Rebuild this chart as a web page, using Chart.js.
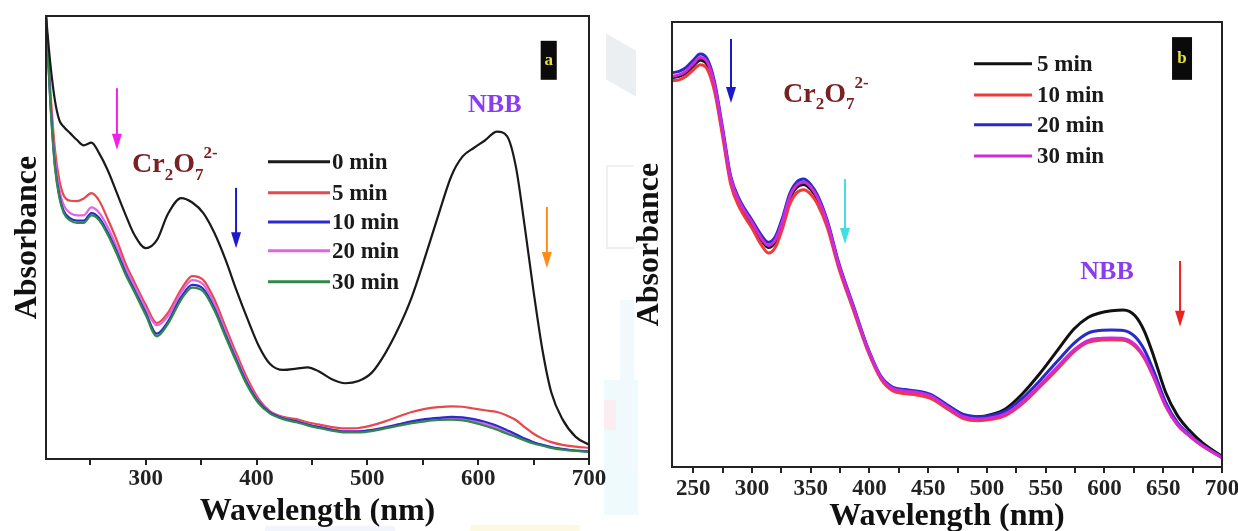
<!DOCTYPE html>
<html>
<head>
<meta charset="utf-8">
<title>UV-vis spectra</title>
<script src="https://cdn.jsdelivr.net/npm/chart.js@4.4.1/dist/chart.umd.min.js"></script>
<style>
  html, body { margin: 0; padding: 0; background: #fff; overflow: hidden; width: 1238px; height: 531px; }
  canvas { position: absolute; top: 0; }
  #chartA { left: 0; }
  #chartB { left: 620px; }
  .bg { position: absolute; }
</style>
</head>
<body>
<!-- faint page decorations behind the panels -->
<div class="bg" style="left:606px;top:42px;width:30px;height:46px;background:#eceff1;transform:skewY(30deg);"></div>
<div class="bg" style="left:606px;top:165px;width:26px;height:80px;border:2px solid #eef0f2;border-right:none;"></div>
<div class="bg" style="left:604px;top:380px;width:34px;height:135px;background:#eefafc;"></div>
<div class="bg" style="left:604px;top:400px;width:12px;height:30px;background:#fcedf0;"></div>
<div class="bg" style="left:620px;top:300px;width:14px;height:170px;background:#f1f9fc;"></div>
<div class="bg" style="left:470px;top:525px;width:110px;height:6px;background:#fcf8e2;"></div>
<div class="bg" style="left:265px;top:526px;width:130px;height:5px;background:#f2f6fc;"></div>

<canvas id="chartA" width="620" height="531"></canvas>
<canvas id="chartB" width="640" height="531"></canvas>
<script>
'use strict';

// ---- panel a : 0-30 min ----
var wavelengthsA = [210, 214, 218, 222, 226, 232, 238, 244, 251, 258, 266, 274, 282, 290, 300,
  310, 320, 332, 342, 352, 362, 372, 382, 392, 402, 412, 424, 436, 446, 456, 468, 480, 492,
  504, 516, 528, 540, 552, 564, 576, 586, 596, 606, 617, 626, 634, 642, 650, 658, 666, 676, 688, 700];
var min0A = [100, 89, 81, 76.5, 75, 73.5, 72, 70.8, 71.4, 69, 65, 60, 55, 50.5, 47.6,
  49.4, 55.3, 58.9, 57.9, 55.5, 51, 45, 38, 31.5, 25.5, 21.5, 20.1, 20.4, 20.7, 19.8, 18, 17.1, 17.6,
  19.5, 23.8, 29.5, 36.5, 45.5, 55, 64, 68.3, 70.2, 71.9, 73.9, 72.9, 66, 52.5, 37.8, 24.6, 15, 9, 5, 3.2];
var min5A = [100, 83, 70, 63, 59.5, 58.3, 58.2, 58.8, 60, 58.3, 54, 49.3, 44, 39.8, 34.8,
  30.7, 33, 38.3, 41.3, 40.4, 36, 29.8, 23.7, 18, 13.5, 10.8, 9.5, 9, 8.3, 7.8, 7.2, 6.9, 7.0,
  7.6, 8.5, 9.6, 10.6, 11.3, 11.7, 11.9, 11.8, 11.4, 11, 10.6, 9.8, 8.8, 7.2, 5.7, 4.6, 3.8, 3.2, 2.8, 2.5];
var min10A = [100, 80.5, 66.5, 59.5, 56, 54.3, 53.8, 53.8, 55.5, 54.4, 51, 46.7, 42, 38, 33,
  28.3, 31, 36.6, 39.3, 38.4, 34, 28, 22.2, 16.8, 12.8, 10.5, 9.2, 8.5, 7.8, 7.2, 6.6, 6.2, 6.2,
  6.5, 7.1, 7.8, 8.5, 9, 9.3, 9.5, 9.4, 9, 8.4, 7.5, 6.5, 5.6, 4.6, 3.8, 3.2, 2.7, 2.3, 1.9, 1.7];
var min20A = [100, 81.5, 68, 61, 57.3, 55.5, 55, 55, 56.8, 55.6, 52.2, 47.8, 43, 39, 34,
  30.2, 32.2, 37.6, 40.4, 39.4, 35, 28.8, 22.8, 17.2, 13, 10.6, 9.3, 8.6, 7.9, 7.3, 6.7, 6.3, 6.3,
  6.6, 7.2, 7.8, 8.4, 8.8, 9.1, 9.2, 9.1, 8.6, 7.9, 7, 6, 5.2, 4.4, 3.7, 3.1, 2.6, 2.2, 1.9, 1.7];
var min30A = [100, 80, 66, 59, 55.5, 53.8, 53.3, 53.3, 55, 53.9, 50.5, 46.2, 41.5, 37.6, 32.5,
  27.7, 30.5, 36, 38.7, 37.8, 33.5, 27.6, 21.8, 16.4, 12.5, 10.3, 9, 8.3, 7.6, 7, 6.4, 6, 6,
  6.3, 6.9, 7.5, 8.1, 8.5, 8.8, 8.9, 8.7, 8.2, 7.5, 6.6, 5.7, 5, 4.2, 3.5, 3, 2.5, 2.1, 1.8, 1.6];
var ticksA = [250, 300, 350, 400, 450, 500, 550, 600, 650, 700];
var tickLabelsA = [300, 400, 500, 600, 700];

// ---- panel b : 5-30 min ----
var wavelengthsB = [232, 238, 244, 250, 256, 262, 268, 275, 282, 290, 300, 308, 314, 320, 326,
  332, 338, 344, 350, 356, 364, 374, 386, 398, 410, 420, 430, 440, 452, 466, 480, 492, 504, 516,
  530, 545, 560, 574, 586, 596, 606, 616, 626, 634, 642, 652, 662, 672, 684, 700];
var min5B = [87.5, 87.8, 88.6, 90.1, 91.4, 90.4, 85.6, 75.3, 64.4, 59, 54.6, 51, 49.3, 50.6, 54.8,
  60.1, 62.8, 63.5, 62.4, 60, 54.7, 45.2, 36, 26.9, 20.1, 17.7, 17.2, 16.9, 16.1, 13.8, 11.7, 11.3, 11.8, 13.1,
  16.4, 21, 26.2, 31, 33.6, 34.6, 35.1, 35.3, 34, 30.5, 24.8, 16.8, 11.6, 8.3, 5.3, 2.4];
var min10B = [86.8, 87, 87.8, 89.2, 90.4, 89.4, 84.6, 74.4, 63.5, 58, 53.7, 49.9, 48.1, 49.4, 53.6,
  58.9, 61.6, 62.3, 61.3, 59, 53.9, 44.6, 35.5, 26.5, 19.7, 17.1, 16.5, 16.2, 15.4, 13.1, 10.9, 10.4, 10.7, 11.6,
  14.2, 18, 22, 25.9, 28, 28.5, 28.6, 28.5, 27.1, 24.4, 20, 13.7, 9.5, 7, 4.6, 2.1];
var min20B = [88.6, 88.9, 89.8, 91.4, 92.8, 91.7, 86.8, 76.3, 65.3, 59.8, 55.5, 52.1, 50.5, 51.8, 56,
  61.3, 64, 64.7, 63.5, 61, 55.5, 45.8, 36.5, 27.2, 20.3, 17.9, 17.4, 17.1, 16.3, 14, 11.8, 11.3, 11.6, 12.6,
  15.4, 19.4, 23.8, 27.8, 30.1, 30.7, 30.8, 30.7, 29.3, 26.3, 21.5, 14.6, 10, 7.3, 4.8, 2.2];
var min30B = [87.8, 88.1, 89, 90.6, 92, 91, 86.1, 75.7, 64.8, 59.3, 55, 51.4, 49.8, 51.1, 55.3,
  60.6, 63.3, 64, 62.9, 60.4, 55, 45.4, 36.2, 27, 20.1, 17.6, 17.1, 16.8, 16, 13.6, 11.3, 10.8, 11.1, 12,
  14.6, 18.4, 22.5, 26.3, 28.4, 28.9, 29, 28.9, 27.5, 24.7, 20.3, 13.9, 9.6, 7.1, 4.7, 2.1];
var ticksB = [250, 275, 300, 325, 350, 375, 400, 425, 450, 475, 500, 525, 550, 575, 600, 625, 650, 675, 700];
var tickLabelsB = [250, 300, 350, 400, 450, 500, 550, 600, 650, 700];

var SERIF = "'Liberation Serif', 'Times New Roman', serif";
Chart.defaults.font.family = SERIF;

function series(xs, ys) {
  return xs.map(function(x, i) { return {x: x, y: ys[i]}; });
}

function line(label, xs, ys, color, width, order) {
  return {
    label: label, data: series(xs, ys), borderColor: color, backgroundColor: color,
    borderWidth: width, pointRadius: 0, fill: false, order: order,
    cubicInterpolationMode: 'monotone'
  };
}

// Cr2O7 2- with sub/superscripts
function drawFormula(ctx, x, y, size, color) {
  var small = Math.round(size * 0.62);
  var big = 'bold ' + size + 'px ' + SERIF, sm = 'bold ' + small + 'px ' + SERIF;
  ctx.fillStyle = color;
  ctx.textAlign = 'left';
  ctx.textBaseline = 'alphabetic';
  var parts = [['Cr', big, 0], ['2', sm, size * 0.28], ['O', big, 0], ['7', sm, size * 0.28], ['2-', sm, -size * 0.5]];
  parts.forEach(function(p) {
    ctx.font = p[1];
    ctx.fillText(p[0], x, y + p[2]);
    x += ctx.measureText(p[0]).width;
  });
}

var extras = {
  id: 'extras',
  afterDraw: function(chart, args, opts) {
    var ctx = chart.ctx, a = chart.chartArea;
    var sx = chart.scales.x, sy = chart.scales.y;
    function px(l) { return sx.getPixelForValue(l); }
    function py(v) { return sy.getPixelForValue(v); }
    ctx.save();
    ctx.strokeStyle = '#222';
    ctx.lineWidth = 2;
    ctx.strokeRect(a.left, a.top, a.right - a.left, a.bottom - a.top);

    (opts.arrows || []).forEach(function(ar) {
      var X = px(ar.at), y0 = py(ar.from), y1 = py(ar.to);
      ctx.strokeStyle = ar.color;
      ctx.fillStyle = ar.color;
      ctx.lineWidth = 2;
      ctx.beginPath(); ctx.moveTo(X, y0); ctx.lineTo(X, y1 - 10); ctx.stroke();
      ctx.beginPath(); ctx.moveTo(X - 5, y1 - 16); ctx.lineTo(X + 5, y1 - 16); ctx.lineTo(X, y1); ctx.closePath(); ctx.fill();
    });

    var f = opts.formula;
    drawFormula(ctx, px(f.at), py(f.val), 28, '#7a2222');

    var n = opts.nbb;
    ctx.font = 'bold 26px ' + SERIF;
    ctx.fillStyle = '#8a3cf0';
    ctx.textAlign = 'center';
    ctx.textBaseline = 'middle';
    ctx.fillText('NBB', px(n.at), py(n.val));

    var t = opts.tag;
    var l = px(t.from), r = px(t.to), tp = py(t.top), bt = py(t.bottom);
    ctx.fillStyle = '#0a0a0a';
    ctx.fillRect(l, tp, r - l, bt - tp);
    ctx.fillStyle = '#e6e040';
    ctx.font = 'bold 17px ' + SERIF;
    ctx.fillText(t.text, (l + r) / 2, (tp + bt) / 2);

    var lg = opts.legend;
    chart.data.datasets.forEach(function(ds, i) {
      var yy = py(lg.rows[i]);
      ctx.strokeStyle = ds.borderColor;
      ctx.lineWidth = 3;
      ctx.beginPath(); ctx.moveTo(px(lg.from), yy); ctx.lineTo(px(lg.to), yy); ctx.stroke();
      ctx.fillStyle = '#1a1a1a';
      ctx.font = 'bold 23px ' + SERIF;
      ctx.textAlign = 'left';
      ctx.textBaseline = 'middle';
      ctx.fillText(ds.label, px(lg.text), yy + 1);
    });
    ctx.restore();
  }
};

function options(p) {
  return {
    responsive: false,
    animation: false,
    layout: {padding: p.padding},
    plugins: {legend: {display: false}, tooltip: {enabled: false}, extras: p.extras},
    scales: {
      x: {
        type: 'linear', min: p.min, max: 700,
        afterBuildTicks: function(s) { s.ticks = p.ticks.map(function(v) { return {value: v}; }); },
        afterFit: function(s) { s.height = p.xHeight; },
        grid: {drawOnChartArea: false, drawTicks: true, tickLength: 6, color: '#222', lineWidth: 2},
        border: {display: true, color: '#222', width: 2},
        ticks: {
          autoSkip: false, maxRotation: 0, padding: p.tickPad, color: '#222',
          font: {size: 23, weight: 'bold'},
          callback: function(v) { return p.labels.indexOf(v) >= 0 ? String(v) : ''; }
        },
        title: {
          display: true, text: 'Wavelength (nm)', color: '#111',
          font: {size: 32, weight: 'bold', lineHeight: 0.9},
          padding: {top: 0, bottom: p.titlePad}
        }
      },
      y: {
        min: 0, max: 100,
        afterFit: function(s) { s.width = p.yWidth; },
        grid: {display: false},
        border: {display: true, color: '#222', width: 2},
        ticks: {display: false},
        title: {
          display: true, text: 'Absorbance', color: '#111',
          font: {size: 32, weight: 'bold', lineHeight: 0.9},
          padding: {top: p.yTitlePad, bottom: 0}
        }
      }
    }
  };
}

new Chart(document.getElementById('chartA'), {
  type: 'line',
  data: {
    datasets: [
      line('0 min', wavelengthsA, min0A, '#1a1a1a', 2.2, 0),
      line('5 min', wavelengthsA, min5A, '#e8474c', 2.2, 4),
      line('10 min', wavelengthsA, min10A, '#2b2bd0', 2.2, 2),
      line('20 min', wavelengthsA, min20A, '#e264e6', 2.2, 3),
      line('30 min', wavelengthsA, min30A, '#2f8a4a', 2.2, 1)
    ]
  },
  options: options({
    min: 210, ticks: ticksA, labels: tickLabelsA,
    padding: {left: 0, top: 16, right: 31, bottom: 0},
    xHeight: 72, yWidth: 46, tickPad: 0, titlePad: 5, yTitlePad: 13,
    extras: {
      arrows: [
        {at: 274, from: 83.7, to: 69.8, color: '#f020e8'},
        {at: 381.5, from: 61.2, to: 47.6, color: '#1a1acc'},
        {at: 662, from: 56.9, to: 43.1, color: '#ff8c1a'}
      ],
      formula: {at: 287.6, val: 64.8},
      nbb: {at: 615, val: 79.9},
      tag: {text: 'a', from: 656.4, to: 670.9, top: 94.4, bottom: 85.6},
      legend: {from: 410.3, to: 466.3, text: 468, rows: [67.1, 60.1, 53.5, 47, 40]}
    }
  }),
  plugins: [extras]
});

new Chart(document.getElementById('chartB'), {
  type: 'line',
  data: {
    datasets: [
      line('5 min', wavelengthsB, min5B, '#111111', 3, 3),
      line('10 min', wavelengthsB, min10B, '#f03a3a', 3, 2),
      line('20 min', wavelengthsB, min20B, '#2a2ac8', 3, 1),
      line('30 min', wavelengthsB, min30B, '#d02ad8', 3, 0)
    ]
  },
  options: options({
    min: 232, ticks: ticksB, labels: tickLabelsB,
    padding: {left: 0, top: 22, right: 38, bottom: 0},
    xHeight: 64, yWidth: 52, tickPad: 2, titlePad: 0, yTitlePad: 15,
    extras: {
      arrows: [
        {at: 282.2, from: 96.2, to: 81.8, color: '#1a1acc'},
        {at: 379.2, from: 64.7, to: 50.1, color: '#40e0e0'},
        {at: 664.3, from: 46.3, to: 31.5, color: '#ee2020'}
      ],
      formula: {at: 326.5, val: 82.1},
      nbb: {at: 602.2, val: 43.8},
      tag: {text: 'b', from: 657.5, to: 674.5, top: 96.6, bottom: 87},
      legend: {from: 489, to: 538.3, text: 542.6, rows: [90.6, 83.6, 76.9, 69.9]}
    }
  }),
  plugins: [extras]
});
</script>
</body>
</html>
